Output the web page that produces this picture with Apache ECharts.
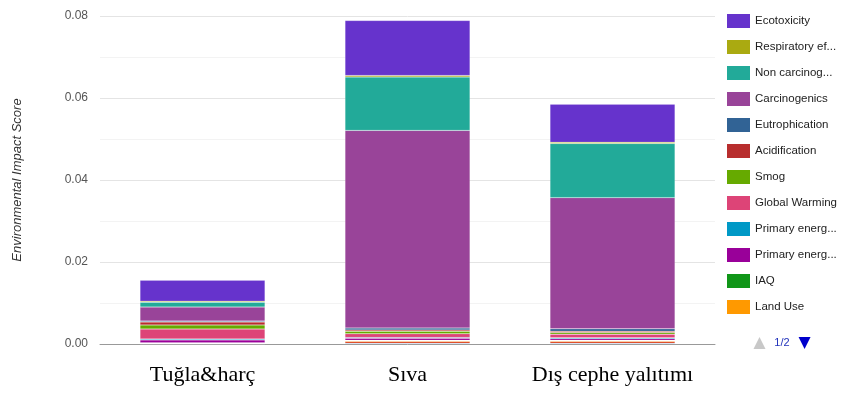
<!DOCTYPE html>
<html><head><meta charset="utf-8">
<script src="https://cdn.jsdelivr.net/npm/echarts@6/dist/echarts.min.js"></script>
<style>html,body{margin:0;padding:0;background:#fff}#c{width:841px;height:394px}</style>
</head><body><div id="c"></div>
<script>
// Categories (x axis)
const categories = ['Tuğla&harç', 'Sıva', 'Dış cephe yalıtımı'];
// Series, listed bottom of stack to top
const waterIntake      = [0.00005, 0.0002, 0.0002];
const ozoneDepletion   = [0.00005, 0.0004, 0.0004];
const landUse          = [0.0001, 0.0002, 0.0002];
const iaq              = [0.0001, 0.0001, 0.0001];
const primaryEnergyNR  = [0.0007, 0.0005, 0.0004];
const primaryEnergyR   = [0.00025, 0.0002, 0.0002];
const globalWarming    = [0.0024, 0.0009, 0.0009];
const smog             = [0.001, 0.0006, 0.0004];
const acidification    = [0.0007, 0.0003, 0.0003];
const eutrophication   = [0.00025, 0.0005, 0.0006];
const carcinogenics    = [0.0034, 0.0482, 0.0320];
const nonCarcinogenics = [0.0012, 0.0130, 0.0132];
const respiratory      = [0.00025, 0.0004, 0.0003];
const ecotoxicity      = [0.0051, 0.0134, 0.0093];
// Y tick labels
const yTicks = [0, 0.02, 0.04, 0.06, 0.08];

const seriesDefs = [
  ['Water Intake', waterIntake, '#3366cc'],
  ['Ozone Depletion', ozoneDepletion, '#dc3912'],
  ['Land Use', landUse, '#ff9900'],
  ['IAQ', iaq, '#109618'],
  ['Primary energy (non-renewable)', primaryEnergyNR, '#990099'],
  ['Primary energy (renewable)', primaryEnergyR, '#0099c6'],
  ['Global Warming', globalWarming, '#dd4477'],
  ['Smog', smog, '#66aa00'],
  ['Acidification', acidification, '#b82e2e'],
  ['Eutrophication', eutrophication, '#316395'],
  ['Carcinogenics', carcinogenics, '#994499'],
  ['Non carcinogenics', nonCarcinogenics, '#22aa99'],
  ['Respiratory effects', respiratory, '#aaaa11'],
  ['Ecotoxicity', ecotoxicity, '#6633cc']
];

const chart = echarts.init(document.getElementById('c'), null, {renderer: 'canvas'});
chart.setOption({
  animation: false,
  grid: {left: 100, right: 126, top: 16, bottom: 50},
  legend: {
    type: 'scroll', orient: 'vertical', left: 722, top: 9, height: 335,
    icon: 'rect', itemWidth: 23, itemHeight: 14, itemGap: 12,
    data: seriesDefs.map(d => d[0]).reverse(),
    textStyle: {fontFamily: 'Arial, Liberation Sans', fontSize: 11.5, color: '#222', width: 84, overflow: 'truncate', ellipsis: '...'},
    itemStyle: {borderWidth: 0},
    pageButtonPosition: 'end', pageFormatter: '{current}/{total}',
    pageIconColor: '#0000cc', pageIconInactiveColor: '#c8c8c8', pageIconSize: 12, pageButtonItemGap: 4,
    pageTextStyle: {color: '#2233bb', fontSize: 11, fontFamily: 'Arial, Liberation Sans'}
  },
  xAxis: {
    type: 'category', data: categories,
    axisLine: {lineStyle: {color: '#999', width: 1}},
    axisTick: {show: false},
    axisLabel: {interval: 0, hideOverlap: false, fontFamily: 'Liberation Serif, Times New Roman, serif', fontSize: 22, color: '#000', margin: 20}
  },
  yAxis: {
    type: 'value', min: yTicks[0], max: yTicks[yTicks.length - 1], interval: 0.02,
    name: 'Environmental Impact Score', nameLocation: 'middle', nameGap: 76,
    nameTextStyle: {fontStyle: 'italic', fontSize: 13, color: '#333', fontFamily: 'Arial, Liberation Sans'},
    axisLine: {show: false}, axisTick: {show: false},
    axisLabel: {formatter: v => v.toFixed(2), fontFamily: 'Arial, Liberation Sans', fontSize: 12, color: '#555', margin: 12},
    splitLine: {lineStyle: {color: '#e4e4e4'}},
    minorTick: {show: false, splitNumber: 2},
    minorSplitLine: {show: true, lineStyle: {color: '#f3f3f3'}}
  },
  series: seriesDefs.map(d => ({
    name: d[0], type: 'bar', stack: 'total', data: d[1], barWidth: 125,
    itemStyle: {color: d[2], borderColor: 'rgba(255,255,255,0.3)', borderWidth: 0.5}
  }))
});
</script></body></html>
